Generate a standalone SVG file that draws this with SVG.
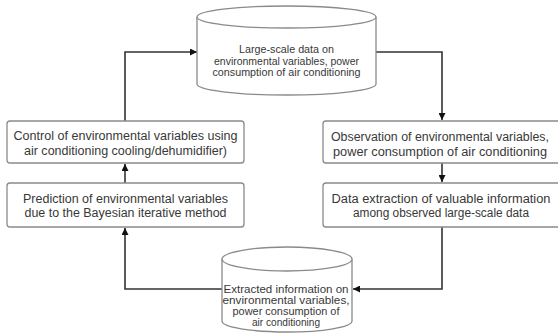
<svg xmlns="http://www.w3.org/2000/svg" width="558" height="333" viewBox="0 0 558 333">
  <style>
    .box { fill: #ffffff; stroke: #8a8a8a; stroke-width: 1.3; }
    .cyl { fill: #ffffff; stroke: #8a8a8a; stroke-width: 1.3; }
    .lbl { font-family: "Liberation Sans", Arial, sans-serif; font-size: 12px; fill: #383838; text-anchor: middle; }
    .sm { font-size: 10px; }
    .wire { fill: none; stroke: #333333; stroke-width: 1.6; }
  </style>
  <defs>
    <marker id="arrow" viewBox="0 0 10 10" refX="10" refY="5" markerWidth="7" markerHeight="7" markerUnits="userSpaceOnUse" orient="auto">
      <path d="M0,0 L10,5 L0,10 Z" fill="#111111"/>
    </marker>
  </defs>
  <rect width="558" height="333" fill="#ffffff"/>

  <!-- connectors -->
  <g id="connectors">
    <path class="wire" d="M125,121 V52 H197" marker-end="url(#arrow)"/>
    <path class="wire" d="M376,52 H442 V120" marker-end="url(#arrow)"/>
    <path class="wire" d="M442,163 V182" marker-end="url(#arrow)"/>
    <path class="wire" d="M442,227 V289 H353" marker-end="url(#arrow)"/>
    <path class="wire" d="M222,289 H125 V228" marker-end="url(#arrow)"/>
    <path class="wire" d="M125,183 V164" marker-end="url(#arrow)"/>
  </g>

  <!-- large-scale data store -->
  <g id="large-data">
    <path class="cyl" d="M197,17 V84 A89.5,11 0 0 0 376,84 V17"/>
    <ellipse class="cyl" cx="286.5" cy="17" rx="89.5" ry="11"/>
    <text class="lbl sm" x="286.5" y="52.5" textLength="95" lengthAdjust="spacingAndGlyphs">Large-scale data on</text>
    <text class="lbl sm" x="286.5" y="64.5" textLength="145" lengthAdjust="spacingAndGlyphs">environmental variables, power</text>
    <text class="lbl sm" x="286.5" y="76" textLength="148" lengthAdjust="spacingAndGlyphs">consumption of air conditioning</text>
  </g>

  <!-- observation -->
  <g id="observation">
    <rect class="box" x="323" y="121" width="240" height="42" rx="3"/>
    <text class="lbl" x="440" y="141" textLength="218" lengthAdjust="spacingAndGlyphs">Observation of environmental variables,</text>
    <text class="lbl" x="440" y="156" textLength="214" lengthAdjust="spacingAndGlyphs">power consumption of air conditioning</text>
  </g>

  <!-- data extraction -->
  <g id="extraction">
    <rect class="box" x="323" y="183" width="240" height="44" rx="3"/>
    <text class="lbl" x="441" y="203" textLength="219" lengthAdjust="spacingAndGlyphs">Data extraction of valuable information</text>
    <text class="lbl" x="441" y="217" textLength="176" lengthAdjust="spacingAndGlyphs">among observed large-scale data</text>
  </g>

  <!-- extracted information store -->
  <g id="extracted-data">
    <path class="cyl" d="M222,259 V321 A65,11 0 0 0 352,321 V259"/>
    <ellipse class="cyl" cx="287" cy="259" rx="65" ry="12"/>
    <text class="lbl sm" x="286" y="293" textLength="125" lengthAdjust="spacingAndGlyphs">Extracted information on</text>
    <text class="lbl sm" x="286" y="304" textLength="127" lengthAdjust="spacingAndGlyphs">environmental variables,</text>
    <text class="lbl sm" x="286" y="315" textLength="107" lengthAdjust="spacingAndGlyphs">power consumption of</text>
    <text class="lbl sm" x="286" y="325.5" textLength="68" lengthAdjust="spacingAndGlyphs">air conditioning</text>
  </g>

  <!-- prediction -->
  <g id="prediction">
    <rect class="box" x="7" y="183" width="237" height="44" rx="3"/>
    <text class="lbl" x="125.5" y="203" textLength="205" lengthAdjust="spacingAndGlyphs">Prediction of environmental variables</text>
    <text class="lbl" x="125.5" y="217" textLength="202" lengthAdjust="spacingAndGlyphs">due to the Bayesian iterative method</text>
  </g>

  <!-- control -->
  <g id="control">
    <rect class="box" x="7" y="121" width="237" height="42" rx="3"/>
    <text class="lbl" x="125.5" y="140" textLength="224" lengthAdjust="spacingAndGlyphs">Control of environmental variables using</text>
    <text class="lbl" x="125.5" y="155" textLength="203" lengthAdjust="spacingAndGlyphs">air conditioning cooling/dehumidifier)</text>
  </g>
</svg>
